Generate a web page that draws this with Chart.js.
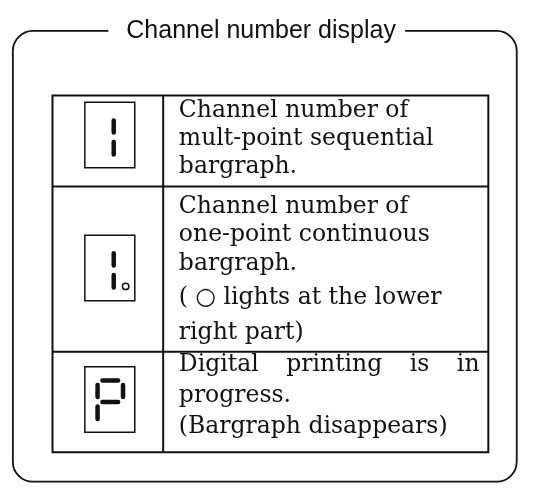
<!DOCTYPE html>
<html><head><meta charset="utf-8">
<script src="https://cdn.jsdelivr.net/npm/chart.js@4.4.1/dist/chart.umd.min.js"></script>
<style>html,body{margin:0;padding:0;background:#fff;}canvas{display:block;}</style>
</head><body>
<canvas id="c" width="533" height="495"></canvas>
<script>
// ---- content ----
const title = 'Channel number display';
const digits = ['1', '1.', 'P'];
const row1Text = ['Channel number of', 'mult-point sequential', 'bargraph.'];
const row2Text = ['Channel number of', 'one-point continuous', 'bargraph.', '( \u25CB lights at the lower', 'right part)'];
const row3Text = ['Digital printing is in', 'progress.', '(Bargraph disappears)'];
const descriptions = [row1Text, row2Text, row3Text];
const segmentMap = { '1': 'bc', 'P': 'abefg' };

// ---- layout ----
const L = {
  frame: { x0: 7.5, x1: 522, y0: 26, y1: 487, r: 20, gapL: 105, gapR: 408, lw: 1.8 },
  titleX: 261, titleY: 33, titleFont: '25px "Liberation Sans", Arial, sans-serif',
  table: { x0: 48, x1: 493, xc: 161, rows: [92, 185, 354, 457], lw: 2 },
  textX: 177, textR: 484,
  baselines: [[114, 143, 171], [212, 241, 270, 305, 341], [374, 405, 437]],
  justify: [[true, false, false]],
  textFont: '23.5px "DejaVu Serif", serif',
  box: { x0: 81, x1: 132, tops: [99, 235, 369.5], h: 67, lw: 1.5 },
  seg: { lw: 4.5, left: 13, right: 39, oneX: 29.5, hx0: 18, hx1: 34, aY: 14, gY: 36, dY: 58, u0: 18.5, u1: 31, l0: 40.5, l1: 53.5 },
  dp: { dx: 41.7, dy: 52.3, r: 3.2 }
};
const INK = '#111';

function lineDS(pts, w, cap) {
  return { type: 'scatter', showLine: true, data: pts.map(p => ({ x: p[0], y: p[1] })),
    borderColor: INK, borderWidth: w, pointRadius: 0, borderCapStyle: cap || 'butt',
    borderJoinStyle: 'miter', tension: 0, clip: false, fill: false };
}

const datasets = [];
// table
const T = L.table;
datasets.push(lineDS([[T.x0, T.rows[0]], [T.x1, T.rows[0]], [T.x1, T.rows[3]], [T.x0, T.rows[3]], [T.x0, T.rows[0]], [T.x0 + 1, T.rows[0]]], T.lw, 'square'));
datasets.push(lineDS([[T.xc, T.rows[0]], [T.xc, T.rows[3]]], T.lw));
T.rows.slice(1, -1).forEach(y => datasets.push(lineDS([[T.x0, y], [T.x1, y]], T.lw)));

// digit boxes and segments
const B = L.box, S = L.seg;
digits.forEach((d, i) => {
  const top = B.tops[i];
  datasets.push(lineDS([[B.x0, top], [B.x1, top], [B.x1, top + B.h], [B.x0, top + B.h], [B.x0, top], [B.x0 + 1, top]], B.lw));
  const ch = d.replace('.', '');
  const segs = segmentMap[ch] || '';
  const onlyRight = segs === 'bc';
  const xl = B.x0 + S.left, xr = B.x0 + (onlyRight ? S.oneX : S.right);
  const pos = {
    a: [[B.x0 + S.hx0, top + S.aY], [B.x0 + S.hx1, top + S.aY]],
    g: [[B.x0 + S.hx0, top + S.gY], [B.x0 + S.hx1, top + S.gY]],
    d: [[B.x0 + S.hx0, top + S.dY], [B.x0 + S.hx1, top + S.dY]],
    b: [[xr, top + S.u0], [xr, top + S.u1]],
    c: [[xr, top + S.l0], [xr, top + S.l1]],
    f: [[xl, top + S.u0], [xl, top + S.u1]],
    e: [[xl, top + S.l0], [xl, top + S.l1]]
  };
  segs.split('').forEach(s => datasets.push(lineDS(pos[s], S.lw, 'round')));
  if (d.includes('.')) {
    datasets.push({ type: 'scatter', data: [{ x: B.x0 + L.dp.dx, y: top + L.dp.dy }],
      pointStyle: 'circle', pointRadius: L.dp.r, pointBorderWidth: 1.5,
      pointBorderColor: INK, pointBackgroundColor: '#fff', showLine: false, clip: false });
  }
});

const decor = {
  id: 'decor',
  afterDatasetsDraw(chart) {
    const ctx = chart.ctx, xs = chart.scales.x, ys = chart.scales.y;
    const X = v => xs.getPixelForValue(v), Y = v => ys.getPixelForValue(v);
    const F = L.frame;
    ctx.save();
    ctx.strokeStyle = INK; ctx.lineWidth = F.lw;
    ctx.beginPath();
    ctx.moveTo(X(F.gapR), Y(F.y0));
    ctx.arcTo(X(F.x1), Y(F.y0), X(F.x1), Y(F.y1), F.r);
    ctx.arcTo(X(F.x1), Y(F.y1), X(F.x0), Y(F.y1), F.r);
    ctx.arcTo(X(F.x0), Y(F.y1), X(F.x0), Y(F.y0), F.r);
    ctx.arcTo(X(F.x0), Y(F.y0), X(F.gapL), Y(F.y0), F.r);
    ctx.lineTo(X(F.gapL), Y(F.y0));
    ctx.stroke();
    ctx.fillStyle = INK;
    ctx.textBaseline = 'alphabetic';
    ctx.font = L.titleFont; ctx.textAlign = 'center';
    ctx.fillText(title, X(L.titleX), Y(L.titleY));
    ctx.textAlign = 'left'; ctx.font = L.textFont;
    descriptions.forEach((lines, r) => {
      lines.forEach((t, k) => {
        const y = Y(L.baselines[r][k]);
        const j = r === 2 && L.justify[0][k];
        if (j) {
          const words = t.split(' ');
          const ws = words.map(w => ctx.measureText(w).width);
          const total = ws.reduce((a, b) => a + b, 0);
          const gap = (X(L.textR) - X(L.textX) - total) / (words.length - 1);
          let x = X(L.textX);
          words.forEach((w, n) => { ctx.fillText(w, x, y); x += ws[n] + gap; });
        } else {
          ctx.fillText(t, X(L.textX), y);
        }
      });
    });
    ctx.restore();
  }
};

new Chart(document.getElementById('c'), {
  type: 'scatter',
  data: { datasets },
  options: {
    responsive: false, animation: false, events: [],
    devicePixelRatio: 1,
    layout: { padding: 0 },
    plugins: { legend: { display: false }, tooltip: { enabled: false }, title: { display: false } },
    scales: {
      x: { type: 'linear', min: 0, max: 533, display: false },
      y: { type: 'linear', min: 0, max: 495, reverse: true, display: false }
    }
  },
  plugins: [decor]
});
</script>
</body></html>
